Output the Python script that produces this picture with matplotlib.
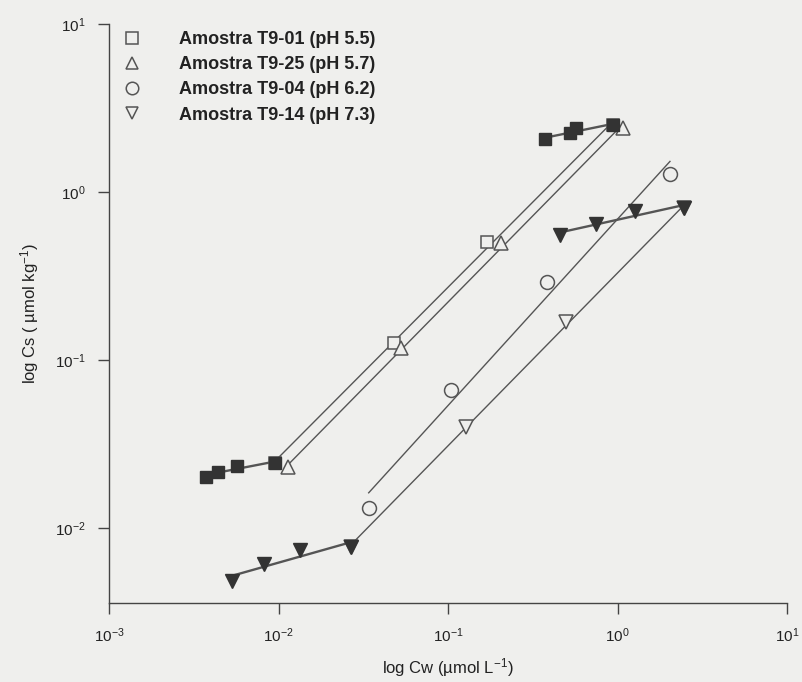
import numpy as np
import matplotlib
matplotlib.use("Agg")
import matplotlib.pyplot as plt

plt.rcParams['font.family'] = ['Liberation Sans', 'DejaVu Sans']
plt.rcParams['mathtext.default'] = 'regular'
plt.rcParams['axes.unicode_minus'] = False

# open symbols (linear isotherms)
t901_cw = [0.00951, 0.0477, 0.169, 0.944]
t901_cs = [0.0244, 0.1257, 0.506, 2.50]
t925_cw = [0.01143, 0.0526, 0.2046, 1.074]
t925_cs = [0.0229, 0.1174, 0.495, 2.39]
t904_cw = [0.0340, 0.1037, 0.382, 2.04]
t904_cs = [0.0131, 0.0663, 0.292, 1.28]
t914_cw = [0.0267, 0.1276, 0.494, 2.47]
t914_cs = [0.00771, 0.0401, 0.169, 0.80]

# filled symbols (low / high concentration segments)
sq_low_cw = [0.00371, 0.00440, 0.00570, 0.00951]
sq_low_cs = [0.0201, 0.0216, 0.0233, 0.0244]
sq_high_cw = [0.373, 0.525, 0.569, 0.944]
sq_high_cs = [2.06, 2.24, 2.39, 2.50]
tri_low_cw = [0.00530, 0.00817, 0.01340, 0.0267]
tri_low_cs = [0.00484, 0.00611, 0.00743, 0.00771]
tri_high_cw = [0.458, 0.746, 1.268, 2.47]
tri_high_cs = [0.555, 0.645, 0.771, 0.80]

labels = ['Amostra T9-01 (pH 5.5)', 'Amostra T9-25 (pH 5.7)',
          'Amostra T9-04 (pH 6.2)', 'Amostra T9-14 (pH 7.3)']

line_c = '#555555'
fill_c = '#333333'
bg = '#efefed'


def fit_line(ax, x, y, lw=1.0):
    lx, ly = np.log10(x), np.log10(y)
    k, b = np.polyfit(lx, ly, 1)
    xx = np.array([lx.min(), lx.max()])
    ax.plot(10**xx, 10**(k*xx + b), color=line_c, lw=lw, zorder=2)


fig = plt.figure(figsize=(8.03, 6.82), dpi=100, facecolor=bg)
ax = fig.add_axes([0.136, 0.116, 0.844, 0.849])
ax.set_facecolor(bg)

for x, y in [(t901_cw, t901_cs), (t925_cw, t925_cs), (t904_cw, t904_cs), (t914_cw, t914_cs)]:
    fit_line(ax, x, y)
for x, y in [(sq_low_cw, sq_low_cs), (sq_high_cw, sq_high_cs), (tri_low_cw, tri_low_cs), (tri_high_cw, tri_high_cs)]:
    fit_line(ax, x, y, lw=1.7)

mk = dict(ls='none', mfc=bg, mec=line_c, mew=1.1, zorder=3)
ax.plot(t901_cw, t901_cs, marker='s', ms=9, label=labels[0], **mk)
ax.plot(t925_cw, t925_cs, marker='^', ms=10, label=labels[1], **mk)
ax.plot(t904_cw, t904_cs, marker='o', ms=10, label=labels[2], **mk)
ax.plot(t914_cw, t914_cs, marker='v', ms=10, label=labels[3], **mk)

fk = dict(ls='none', color=fill_c, mec=fill_c, zorder=4)
ax.plot(sq_low_cw, sq_low_cs, marker='s', ms=9, **fk)
ax.plot(sq_high_cw, sq_high_cs, marker='s', ms=9, **fk)
ax.plot(tri_low_cw, tri_low_cs, marker='v', ms=10, **fk)
ax.plot(tri_high_cw, tri_high_cs, marker='v', ms=10, **fk)

ax.set_xscale('log')
ax.set_yscale('log')
ax.set_xlim(1e-3, 1e1)
ax.set_ylim(10**-2.446, 1e1)
ax.minorticks_off()
ax.set_xticks([1e-3, 1e-2, 1e-1, 1e0, 1e1])
ax.set_yticks([1e-2, 1e-1, 1e0, 1e1])

for s in ['top', 'right']:
    ax.spines[s].set_visible(False)
for s in ['left', 'bottom']:
    ax.spines[s].set_color('#444444')
    ax.spines[s].set_linewidth(1.0)
ax.tick_params(direction='out', length=8, width=1, colors='#444444',
               labelcolor='#222222', labelsize=11, pad=9)

ax.set_xlabel('log Cw (µmol L$^{-1}$)', fontsize=12, color='#222222', labelpad=8)
ax.set_ylabel('log Cs ( µmol kg$^{-1}$)', fontsize=12, color='#222222', labelpad=10)

leg = ax.legend(loc='upper left', bbox_to_anchor=(-0.01, 1.016), frameon=False,
                prop={'weight': 'bold', 'size': 13}, handletextpad=1.85,
                labelspacing=0.46, borderaxespad=0.5, handlelength=1.5,
                markerscale=0.9)
for t in leg.get_texts():
    t.set_color('#222222')

fig.savefig('out.png', dpi=100, facecolor=bg)
